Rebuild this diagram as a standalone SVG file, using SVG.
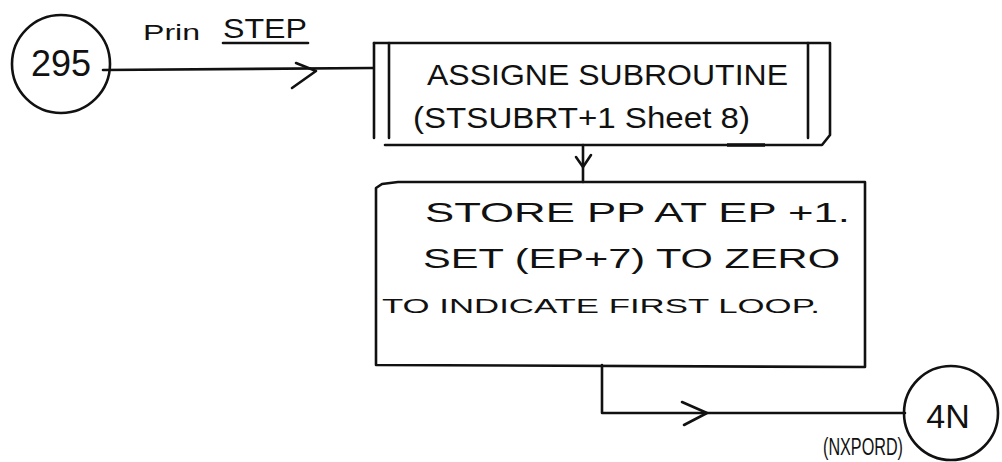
<svg xmlns="http://www.w3.org/2000/svg" width="1002" height="462" viewBox="0 0 1002 462">
<style>
.ln{fill:none;stroke:#111;stroke-width:2.6;stroke-linecap:round;stroke-linejoin:round}
.t{font-family:"Liberation Sans",Arial,sans-serif;fill:#111}
</style>
<rect width="1002" height="462" fill="#fff"/>
<g id="connectors">
<path class="ln" d="M103,70 L373,68"/>
<polyline class="ln" points="296,63 316,71 292,88"/>
<path class="ln" d="M583,145 L583,182"/>
<polyline class="ln" points="576,157 583,167 591,155"/>
<path class="ln" d="M602,365 L602,413 L905,413"/>
<polyline class="ln" points="682,402 707,413 684,425"/>
<text class="t" y="40"><tspan x="143" font-size="22" textLength="57" lengthAdjust="spacingAndGlyphs">Prin</tspan> <tspan x="223" y="38" font-size="27" textLength="84" lengthAdjust="spacingAndGlyphs">STEP</tspan></text>
<path class="ln" d="M223,43 L308,43"/>
<text class="t" x="823" y="455" font-size="23" textLength="80" lengthAdjust="spacingAndGlyphs">(NXPORD)</text>
</g>
<g id="node-295">
<circle class="ln" cx="61" cy="64" r="49"/>
<text class="t" x="61" y="76" font-size="36" text-anchor="middle">295</text>
</g>
<g id="node-assigne">
<path class="ln" d="M374,43 L830,43 L830,135 L822,145 L385,145"/>
<path class="ln" d="M374,43 L374,138 M389,43 L389,138 M808,43 L808,138"/>
<path d="M727,145 L765,145" stroke="#111" stroke-width="3.5"/>
<text class="t" x="427" y="85" font-size="29" textLength="361" lengthAdjust="spacingAndGlyphs">ASSIGNE SUBROUTINE</text>
<text class="t" x="413" y="128" font-size="29" textLength="337" lengthAdjust="spacingAndGlyphs">(STSUBRT+1 Sheet 8)</text>
</g>
<g id="node-store">
<path class="ln" d="M376,365 L376,188 L382,184 L398,182 L865,182 L865,367 L376,365"/>
<text class="t" x="425" y="222" font-size="28" textLength="425" lengthAdjust="spacingAndGlyphs">STORE PP AT EP +1.</text>
<text class="t" x="423" y="268" font-size="27" textLength="417" lengthAdjust="spacingAndGlyphs">SET (EP+7) TO ZERO</text>
<text class="t" x="382" y="313" font-size="21" textLength="438" lengthAdjust="spacingAndGlyphs">TO INDICATE FIRST LOOP.</text>
</g>
<g id="node-4N">
<circle class="ln" cx="951" cy="413" r="47"/>
<text class="t" x="948" y="428" font-size="34" text-anchor="middle">4N</text>
</g>
</svg>
